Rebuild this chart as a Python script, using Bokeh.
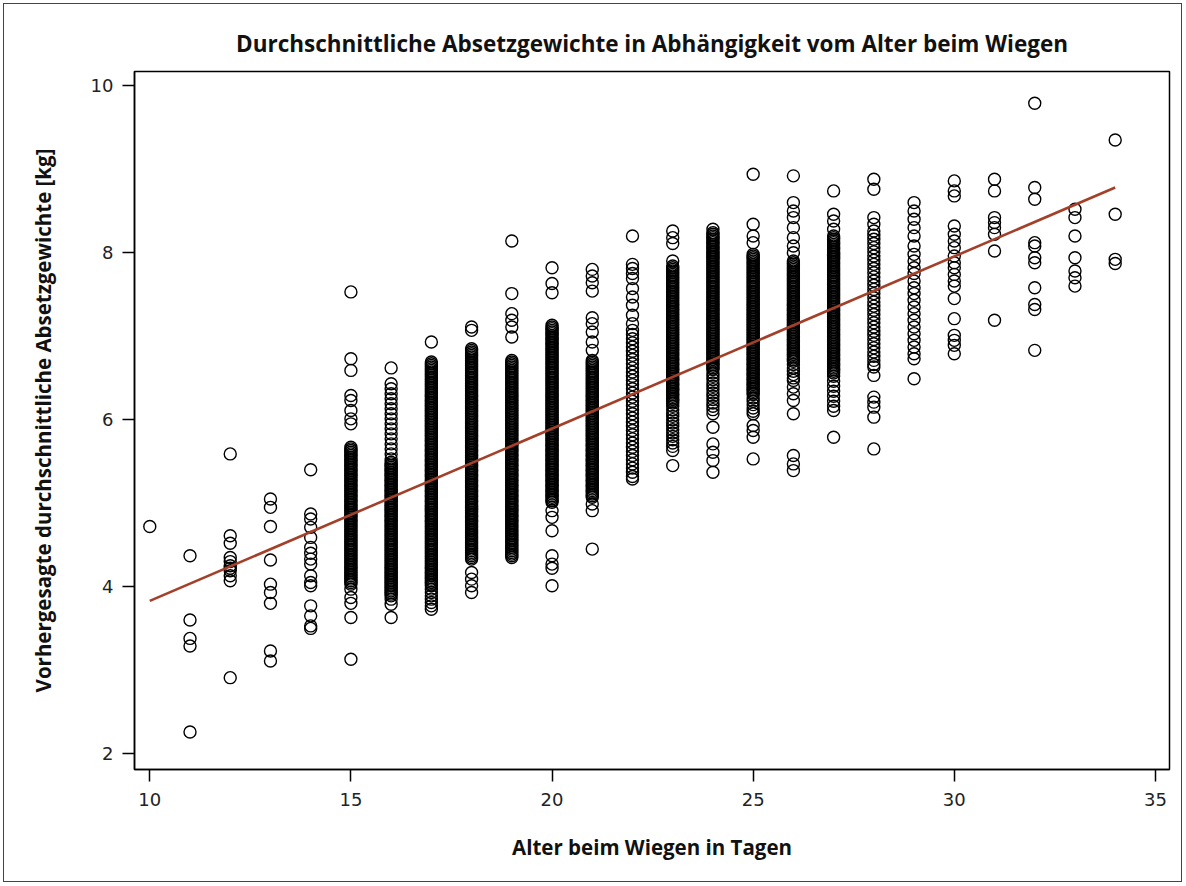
from bokeh.plotting import figure
from bokeh.models import Range1d, FixedTicker, ColumnDataSource, InlineStyleSheet
from bokeh.embed import file_html
from bokeh.resources import INLINE

title_text = "Durchschnittliche Absetzgewichte in Abhängigkeit vom Alter beim Wiegen"
x_label = "Alter beim Wiegen in Tagen"
y_label = "Vorhergesagte durchschnittliche Absetzgewichte [kg]"

x_ticks = [10, 15, 20, 25, 30, 35]
y_ticks = [2, 4, 6, 8, 10]

ages = [10, 11, 12, 13, 14, 15, 16, 17, 18, 19, 20, 21, 22, 23, 24, 25, 26, 27, 28, 29, 30, 31, 32, 33, 34]

w10 = [4.72]
w11 = [4.37, 3.60, 3.38, 3.29, 2.26]
w12 = [5.59, 4.61, 4.52, 4.35, 4.30, 4.25, 4.22, 4.19, 4.13, 4.07, 2.91]
w13 = [5.05, 4.95, 4.72, 4.32, 4.03, 3.93, 3.80, 3.23, 3.11]
w14 = [5.40, 4.87, 4.81, 4.71, 4.59, 4.47, 4.40, 4.33, 4.27, 4.13, 4.05, 4.01, 3.77, 3.65, 3.53, 3.50]
w15 = [7.53, 6.73, 6.59, 6.29, 6.23, 6.11, 6.01, 5.95,
       5.67, 5.63, 5.59, 5.55, 5.51, 5.47, 5.43, 5.39, 5.35, 5.31, 5.27, 5.23, 5.19, 5.15, 5.11, 5.07,
       5.03, 4.99, 4.95, 4.91, 4.87, 4.83, 4.79, 4.75, 4.71, 4.67, 4.63, 4.59, 4.55, 4.51, 4.47, 4.43,
       4.39, 4.35, 4.31, 4.27, 4.23, 4.19, 4.15, 4.11, 4.07, 4.03,
       5.65, 5.61, 5.57, 5.53, 5.49, 5.45, 5.41, 5.37, 5.33, 5.29, 5.25, 5.21, 5.17, 5.13, 5.09, 5.05,
       5.01, 4.97, 4.93, 4.89, 4.85, 4.81, 4.77, 4.73, 4.69, 4.65, 4.61, 4.57, 4.53, 4.49, 4.45, 4.41,
       4.37, 4.33, 4.29, 4.25, 4.21, 4.17, 4.13, 4.09, 4.05,
       3.97, 3.87, 3.80, 3.63, 3.13]
w16 = [6.62, 6.43, 6.37, 6.31, 6.25, 6.19, 6.13, 6.07, 6.01, 5.95, 5.89, 5.83, 5.77, 5.71, 5.65, 5.59,
       5.53, 5.49, 5.45, 5.41, 5.37, 5.33, 5.29, 5.25, 5.21, 5.17, 5.13, 5.09, 5.05, 5.01, 4.97, 4.93,
       4.89, 4.85, 4.81, 4.77, 4.73, 4.69, 4.65, 4.61, 4.57, 4.53, 4.49, 4.45, 4.41, 4.37, 4.33, 4.29,
       4.25, 4.21, 4.17, 4.13, 4.09, 4.05, 4.01, 3.97, 3.93, 3.89, 3.85, 3.79, 3.63,
       5.47, 5.43, 5.39, 5.35, 5.31, 5.27, 5.23, 5.19, 5.15, 5.11, 5.07, 5.03, 4.99, 4.95, 4.91, 4.87,
       4.83, 4.79, 4.75, 4.71, 4.67, 4.63, 4.59, 4.55, 4.51, 4.47, 4.43, 4.39, 4.35, 4.31, 4.27, 4.23,
       4.19, 4.15, 4.11, 4.07, 4.03, 3.99, 3.95, 3.91]
w17 = [6.93, 6.69, 6.65, 6.61, 6.57, 6.53, 6.49, 6.45, 6.41, 6.37, 6.33, 6.29, 6.25, 6.21, 6.17, 6.13,
       6.09, 6.05, 6.01, 5.97, 5.93, 5.89, 5.85, 5.81, 5.77, 5.73, 5.69, 5.65, 5.61, 5.57, 5.53, 5.49,
       5.45, 5.41, 5.37, 5.33, 5.29, 5.25, 5.21, 5.17, 5.13, 5.09, 5.05, 5.01, 4.97, 4.93, 4.89, 4.85,
       4.81, 4.77, 4.73, 4.69, 4.65, 4.61, 4.57, 4.53, 4.49, 4.45, 4.41, 4.37, 4.33, 4.29, 4.25, 4.21,
       4.17, 4.13, 4.09, 4.05, 4.01, 3.97, 3.93, 3.89, 3.85, 3.81, 3.77, 3.73,
       6.67, 6.63, 6.59, 6.55, 6.51, 6.47, 6.43, 6.39, 6.35, 6.31, 6.27, 6.23, 6.19, 6.15, 6.11, 6.07,
       6.03, 5.99, 5.95, 5.91, 5.87, 5.83, 5.79, 5.75, 5.71, 5.67, 5.63, 5.59, 5.55, 5.51, 5.47, 5.43,
       5.39, 5.35, 5.31, 5.27, 5.23, 5.19, 5.15, 5.11, 5.07, 5.03, 4.99, 4.95, 4.91, 4.87, 4.83, 4.79,
       4.75, 4.71, 4.67, 4.63, 4.59, 4.55, 4.51, 4.47, 4.43, 4.39, 4.35, 4.31, 4.27, 4.23, 4.19, 4.15,
       4.11, 4.07, 4.03]
w18 = [7.11, 7.07, 6.85, 6.81, 6.77, 6.73, 6.69, 6.65, 6.61, 6.57, 6.53, 6.49, 6.45, 6.41, 6.37, 6.33,
       6.29, 6.25, 6.21, 6.17, 6.13, 6.09, 6.05, 6.01, 5.97, 5.93, 5.89, 5.85, 5.81, 5.77, 5.73, 5.69,
       5.65, 5.61, 5.57, 5.53, 5.49, 5.45, 5.41, 5.37, 5.33, 5.29, 5.25, 5.21, 5.17, 5.13, 5.09, 5.05,
       5.01, 4.97, 4.93, 4.89, 4.85, 4.81, 4.77, 4.73, 4.69, 4.65, 4.61, 4.57, 4.53, 4.49, 4.45, 4.41,
       4.37, 4.33, 4.17, 4.09, 4.01, 3.93,
       6.83, 6.79, 6.75, 6.71, 6.67, 6.63, 6.59, 6.55, 6.51, 6.47, 6.43, 6.39, 6.35, 6.31, 6.27, 6.23,
       6.19, 6.15, 6.11, 6.07, 6.03, 5.99, 5.95, 5.91, 5.87, 5.83, 5.79, 5.75, 5.71, 5.67, 5.63, 5.59,
       5.55, 5.51, 5.47, 5.43, 5.39, 5.35, 5.31, 5.27, 5.23, 5.19, 5.15, 5.11, 5.07, 5.03, 4.99, 4.95,
       4.91, 4.87, 4.83, 4.79, 4.75, 4.71, 4.67, 4.63, 4.59, 4.55, 4.51, 4.47, 4.43, 4.39, 4.35]
w19 = [8.14, 7.51, 7.27, 7.19, 7.11, 6.99, 6.71, 6.67, 6.63, 6.59, 6.55, 6.51, 6.47, 6.43, 6.39, 6.35,
       6.31, 6.27, 6.23, 6.19, 6.15, 6.11, 6.07, 6.03, 5.99, 5.95, 5.91, 5.87, 5.83, 5.79, 5.75, 5.71,
       5.67, 5.63, 5.59, 5.55, 5.51, 5.47, 5.43, 5.39, 5.35, 5.31, 5.27, 5.23, 5.19, 5.15, 5.11, 5.07,
       5.03, 4.99, 4.95, 4.91, 4.87, 4.83, 4.79, 4.75, 4.71, 4.67, 4.63, 4.59, 4.55, 4.51, 4.47, 4.43,
       4.39, 4.35,
       6.69, 6.65, 6.61, 6.57, 6.53, 6.49, 6.45, 6.41, 6.37, 6.33, 6.29, 6.25, 6.21, 6.17, 6.13, 6.09,
       6.05, 6.01, 5.97, 5.93, 5.89, 5.85, 5.81, 5.77, 5.73, 5.69, 5.65, 5.61, 5.57, 5.53, 5.49, 5.45,
       5.41, 5.37, 5.33, 5.29, 5.25, 5.21, 5.17, 5.13, 5.09, 5.05, 5.01, 4.97, 4.93, 4.89, 4.85, 4.81,
       4.77, 4.73, 4.69, 4.65, 4.61, 4.57, 4.53, 4.49, 4.45, 4.41, 4.37]
w20 = [7.82, 7.63, 7.52, 7.13, 7.09, 7.05, 7.01, 6.97, 6.93, 6.89, 6.85, 6.81, 6.77, 6.73, 6.69, 6.65,
       6.61, 6.57, 6.53, 6.49, 6.45, 6.41, 6.37, 6.33, 6.29, 6.25, 6.21, 6.17, 6.13, 6.09, 6.05, 6.01,
       5.97, 5.93, 5.89, 5.85, 5.81, 5.77, 5.73, 5.69, 5.65, 5.61, 5.57, 5.53, 5.49, 5.45, 5.41, 5.37,
       5.33, 5.29, 5.25, 5.21, 5.17, 5.13, 5.09, 5.05, 5.01, 4.91, 4.83, 4.67, 4.37, 4.27, 4.22, 4.01,
       7.11, 7.07, 7.03, 6.99, 6.95, 6.91, 6.87, 6.83, 6.79, 6.75, 6.71, 6.67, 6.63, 6.59, 6.55, 6.51,
       6.47, 6.43, 6.39, 6.35, 6.31, 6.27, 6.23, 6.19, 6.15, 6.11, 6.07, 6.03, 5.99, 5.95, 5.91, 5.87,
       5.83, 5.79, 5.75, 5.71, 5.67, 5.63, 5.59, 5.55, 5.51, 5.47, 5.43, 5.39, 5.35, 5.31, 5.27, 5.23,
       5.19, 5.15, 5.11, 5.07, 5.03]
w21 = [7.80, 7.72, 7.64, 7.54, 7.22, 7.15, 7.05, 6.93, 6.83, 6.71, 6.67, 6.63, 6.59, 6.55, 6.51, 6.47,
       6.43, 6.39, 6.35, 6.31, 6.27, 6.23, 6.19, 6.15, 6.11, 6.07, 6.03, 5.99, 5.95, 5.91, 5.87, 5.83,
       5.79, 5.75, 5.71, 5.67, 5.63, 5.59, 5.55, 5.51, 5.47, 5.43, 5.39, 5.35, 5.31, 5.27, 5.23, 5.19,
       5.15, 5.11, 5.07, 4.99, 4.91, 4.45,
       6.69, 6.65, 6.61, 6.57, 6.53, 6.49, 6.45, 6.41, 6.37, 6.33, 6.29, 6.25, 6.21, 6.17, 6.13, 6.09,
       6.05, 6.01, 5.97, 5.93, 5.89, 5.85, 5.81, 5.77, 5.73, 5.69, 5.65, 5.61, 5.57, 5.53, 5.49, 5.45,
       5.41, 5.37, 5.33, 5.29, 5.25, 5.21, 5.17, 5.13, 5.09]
w22 = [8.20, 7.86, 7.81, 7.75, 7.69, 7.57, 7.47, 7.37, 7.25, 7.15, 7.07, 7.02, 6.97, 6.92, 6.87, 6.82,
       6.77, 6.72, 6.67, 6.62, 6.57, 6.52, 6.47, 6.42, 6.37, 6.32, 6.27, 6.22, 6.17, 6.12, 6.07, 6.02,
       5.97, 5.92, 5.87, 5.82, 5.77, 5.72, 5.67, 5.62, 5.57, 5.52, 5.47, 5.42, 5.37, 5.32, 5.29]
w23 = [8.26, 8.18, 8.11, 7.90, 7.84, 7.80, 7.76, 7.72, 7.68, 7.64, 7.60, 7.56, 7.52, 7.48, 7.44, 7.40,
       7.36, 7.32, 7.28, 7.24, 7.20, 7.16, 7.12, 7.08, 7.04, 7.00, 6.96, 6.92, 6.88, 6.84, 6.80, 6.76,
       6.72, 6.68, 6.64, 6.60, 6.56, 6.52, 6.48, 6.44, 6.40, 6.36, 6.32, 6.28, 6.24, 6.20, 6.16, 6.12,
       6.08, 6.04, 6.00, 5.96, 5.92, 5.88, 5.84, 5.80, 5.76, 5.72, 5.68, 5.63, 5.45,
       7.82, 7.78, 7.74, 7.70, 7.66, 7.62, 7.58, 7.54, 7.50, 7.46, 7.42, 7.38, 7.34, 7.30, 7.26, 7.22,
       7.18, 7.14, 7.10, 7.06, 7.02, 6.98, 6.94, 6.90, 6.86, 6.82, 6.78, 6.74, 6.70, 6.66, 6.62, 6.58,
       6.54, 6.50, 6.46, 6.42, 6.38, 6.34, 6.30, 6.26, 6.22]
w24 = [8.28, 8.24, 8.20, 8.16, 8.12, 8.08, 8.04, 8.00, 7.96, 7.92, 7.88, 7.84, 7.80, 7.76, 7.72, 7.68,
       7.64, 7.60, 7.56, 7.52, 7.48, 7.44, 7.40, 7.36, 7.32, 7.28, 7.24, 7.20, 7.16, 7.12, 7.08, 7.04,
       7.00, 6.96, 6.92, 6.88, 6.84, 6.80, 6.76, 6.72, 6.68, 6.64, 6.60, 6.56, 6.52, 6.48, 6.44, 6.40,
       6.36, 6.32, 6.28, 6.24, 6.20, 6.16, 6.12, 6.07, 5.91, 5.71, 5.61, 5.51, 5.37,
       8.22, 8.18, 8.14, 8.10, 8.06, 8.02, 7.98, 7.94, 7.90, 7.86, 7.82, 7.78, 7.74, 7.70, 7.66, 7.62,
       7.58, 7.54, 7.50, 7.46, 7.42, 7.38, 7.34, 7.30, 7.26, 7.22, 7.18, 7.14, 7.10, 7.06, 7.02, 6.98,
       6.94, 6.90, 6.86, 6.82, 6.78, 6.74, 6.70, 6.66, 6.62]
w25 = [8.94, 8.34, 8.20, 8.12, 7.98, 7.94, 7.90, 7.86, 7.82, 7.78, 7.74, 7.70, 7.66, 7.62, 7.58, 7.54,
       7.50, 7.46, 7.42, 7.38, 7.34, 7.30, 7.26, 7.22, 7.18, 7.14, 7.10, 7.06, 7.02, 6.98, 6.94, 6.90,
       6.86, 6.82, 6.78, 6.74, 6.70, 6.66, 6.62, 6.58, 6.54, 6.50, 6.46, 6.42, 6.38, 6.34, 6.30, 6.26,
       6.22, 6.18, 6.14, 6.10, 6.07, 5.93, 5.87, 5.79, 5.53,
       7.96, 7.92, 7.88, 7.84, 7.80, 7.76, 7.72, 7.68, 7.64, 7.60, 7.56, 7.52, 7.48, 7.44, 7.40, 7.36,
       7.32, 7.28, 7.24, 7.20, 7.16, 7.12, 7.08, 7.04, 7.00, 6.96, 6.92, 6.88, 6.84, 6.80, 6.76, 6.72,
       6.68, 6.64, 6.60, 6.56, 6.52, 6.48, 6.44, 6.40, 6.36, 6.32]
w26 = [8.92, 8.60, 8.50, 8.42, 8.30, 8.18, 8.08, 8.00, 7.90, 7.86, 7.82, 7.78, 7.74, 7.70, 7.66, 7.62,
       7.58, 7.54, 7.50, 7.46, 7.42, 7.38, 7.34, 7.30, 7.26, 7.22, 7.18, 7.14, 7.10, 7.06, 7.02, 6.98,
       6.94, 6.90, 6.86, 6.82, 6.78, 6.74, 6.70, 6.66, 6.62, 6.58, 6.54, 6.50, 6.47, 6.39, 6.31, 6.23,
       6.07, 5.57, 5.47, 5.39,
       7.88, 7.84, 7.80, 7.76, 7.72, 7.68, 7.64, 7.60, 7.56, 7.52, 7.48, 7.44, 7.40, 7.36, 7.32, 7.28,
       7.24, 7.20, 7.16, 7.12, 7.08, 7.04, 7.00, 6.96, 6.92, 6.88, 6.84, 6.80, 6.76, 6.72]
w27 = [8.74, 8.46, 8.38, 8.28, 8.20, 8.16, 8.12, 8.08, 8.04, 8.00, 7.96, 7.92, 7.88, 7.84, 7.80, 7.76,
       7.72, 7.68, 7.64, 7.60, 7.56, 7.52, 7.48, 7.44, 7.40, 7.36, 7.32, 7.28, 7.24, 7.20, 7.16, 7.12,
       7.08, 7.04, 7.00, 6.96, 6.92, 6.88, 6.84, 6.80, 6.76, 6.72, 6.68, 6.64, 6.60, 6.56, 6.52, 6.46,
       6.40, 6.34, 6.28, 6.22, 6.16, 6.11, 5.79,
       8.18, 8.14, 8.10, 8.06, 8.02, 7.98, 7.94, 7.90, 7.86, 7.82, 7.78, 7.74, 7.70, 7.66, 7.62, 7.58,
       7.54, 7.50, 7.46, 7.42, 7.38, 7.34, 7.30, 7.26, 7.22, 7.18, 7.14, 7.10, 7.06, 7.02, 6.98, 6.94,
       6.90, 6.86, 6.82, 6.78, 6.74, 6.70, 6.66, 6.62, 6.58]
w28 = [8.88, 8.76, 8.42, 8.34, 8.26, 8.21, 8.16, 8.11, 8.06, 8.01, 7.96, 7.91, 7.86, 7.81, 7.76, 7.71,
       7.66, 7.61, 7.56, 7.51, 7.46, 7.41, 7.36, 7.31, 7.26, 7.21, 7.16, 7.11, 7.06, 7.01, 6.96, 6.91,
       6.86, 6.81, 6.76, 6.71, 6.66, 6.63, 6.53, 6.27, 6.21, 6.15, 6.03, 5.65]
w29 = [8.60, 8.50, 8.40, 8.30, 8.20, 8.08, 7.98, 7.90, 7.82, 7.75, 7.66, 7.58, 7.51, 7.43, 7.35, 7.27,
       7.19, 7.11, 7.03, 6.95, 6.87, 6.79, 6.73, 6.49]
w30 = [8.86, 8.74, 8.68, 8.32, 8.22, 8.14, 8.06, 7.96, 7.88, 7.82, 7.74, 7.66, 7.60, 7.45, 7.21, 7.01,
       6.95, 6.89, 6.79]
w31 = [8.88, 8.74, 8.42, 8.36, 8.30, 8.22, 8.02, 7.19]
w32 = [9.79, 8.78, 8.64, 8.12, 8.08, 7.94, 7.88, 7.58, 7.38, 7.32, 6.83]
w33 = [8.52, 8.42, 8.20, 7.94, 7.78, 7.70, 7.60]
w34 = [9.35, 8.46, 7.92, 7.87]

weights = [w10, w11, w12, w13, w14, w15, w16, w17, w18, w19, w20, w21, w22,
           w23, w24, w25, w26, w27, w28, w29, w30, w31, w32, w33, w34]

fit_x = [10, 34]
fit_y = [3.83, 8.78]

xs, ys = [], []
for a, ws in zip(ages, weights):
    for w in ws:
        xs.append(a)
        ys.append(w)
src = ColumnDataSource(data=dict(x=xs, y=ys))

W, H = 1185, 885
p = figure(width=W, height=H, output_backend="svg", toolbar_location=None,
           x_range=Range1d(9.62, 35.35), y_range=Range1d(1.81, 10.17),
           min_border_left=134, min_border_right=16, min_border_top=71, min_border_bottom=116,
           title=title_text)
# thin border around the whole picture, drawn by the page behind a transparent border area
shadow = "inset 0 0 0 3px white, inset 0 0 0 4px #444444"
frame_css = ":host { background-color: white; box-shadow: " + shadow + "; }"
p.stylesheets = [InlineStyleSheet(css=frame_css)]
p.styles = {"background-color": "white", "box-shadow": shadow}
p.background_fill_color = "white"
p.border_fill_color = None
p.grid.visible = False
p.outline_line_color = "black"
p.outline_line_width = 1.5

p.title.text_font = "Open Sans"
p.title.text_font_style = "bold"
p.title.text_font_size = "22.5px"
p.title.text_color = "#111111"
p.title.align = "center"
p.title.standoff = 26

for ax in (p.xaxis[0], p.yaxis[0]):
    ax.axis_line_color = "black"
    ax.axis_line_width = 1.5
    ax.major_tick_line_color = "black"
    ax.major_tick_line_width = 1.5
    ax.major_tick_in = 0
    ax.major_tick_out = 12
    ax.minor_tick_line_color = None
    ax.major_label_text_font = "DejaVu Sans"
    ax.major_label_text_font_size = "18px"
    ax.major_label_text_color = "#222222"
    ax.major_label_standoff = 9
    ax.axis_label_text_font = "Open Sans"
    ax.axis_label_text_font_style = "bold"
    ax.axis_label_text_font_size = "20.5px"
    ax.axis_label_text_color = "#111111"

p.xaxis[0].ticker = FixedTicker(ticks=x_ticks)
p.yaxis[0].ticker = FixedTicker(ticks=y_ticks)
p.xaxis[0].axis_label = x_label
p.yaxis[0].axis_label = y_label
p.xaxis[0].major_label_standoff = 11
p.xaxis[0].axis_label_standoff = 24
p.yaxis[0].axis_label_standoff = 31

p.scatter("x", "y", source=src, marker="circle", size=12, fill_color=None,
          line_color="black", line_width=1.4)
p.line(fit_x, fit_y, line_color="#A3402A", line_width=2.6)

open("out.html", "w").write(file_html(p, INLINE))
